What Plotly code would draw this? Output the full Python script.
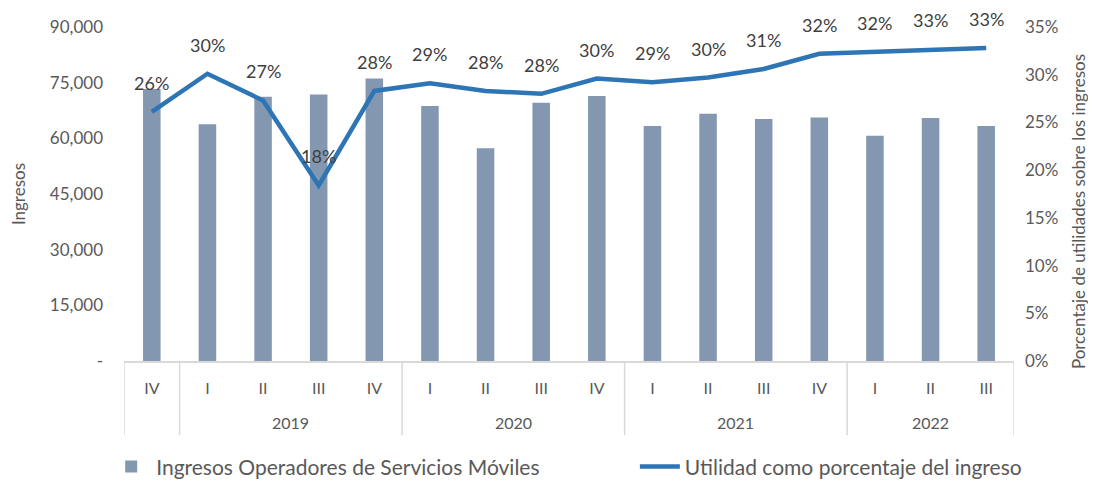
import plotly.graph_objects as go

years = ["", "2019", "2019", "2019", "2019", "2020", "2020", "2020", "2020",
         "2021", "2021", "2021", "2021", "2022", "2022", "2022"]
quarters = ["IV", "I", "II", "III", "IV", "I", "II", "III", "IV",
            "I", "II", "III", "IV", "I", "II", "III"]
ingresos = [73300, 63800, 71200, 71800, 76100, 68700, 57300, 69600, 71400,
            63300, 66600, 65200, 65600, 60700, 65500, 63300]
utilidad_pct = [26.1, 30.1, 27.3, 18.4, 28.3, 29.1, 28.3, 28.0, 29.6,
                29.2, 29.7, 30.6, 32.2, 32.4, 32.7, 32.8]

left_ticks = [0, 15000, 30000, 45000, 60000, 75000, 90000]
left_ticktext = ["-", "15,000", "30,000", "45,000", "60,000", "75,000", "90,000"]
right_ticks = [0, 5, 10, 15, 20, 25, 30, 35]
right_ticktext = [f"{v}%" for v in right_ticks]

FONT = "Lato"
GREY = "#595959"
DIV = "#D9D9D9"

idx = list(range(len(quarters)))

fig = go.Figure()
fig.add_trace(go.Bar(
    x=idx, y=ingresos,
    name="Ingresos Operadores de Servicios Móviles",
    marker=dict(color="#8497B0", line=dict(width=0)),
    legend="legend",
))
fig.add_trace(go.Scatter(
    x=idx, y=utilidad_pct, yaxis="y2",
    mode="lines", name="Utilidad como porcentaje del ingreso",
    line=dict(color="#2E75B6", width=4.5),
    legend="legend2",
))

annotations = []
for i, v in enumerate(utilidad_pct):
    annotations.append(dict(
        x=i, y=v, xref="x", yref="y2", text=f"{round(v)}%",
        showarrow=False, yshift=29, font=dict(family=FONT, size=18, color="#404040"),
    ))

# year group labels and dividers
groups = []
for i, yr in enumerate(years):
    if not groups or groups[-1][0] != yr:
        groups.append([yr, i, i])
    else:
        groups[-1][2] = i

shapes = []
for yr, a, b in groups:
    if yr:
        annotations.append(dict(
            x=(a + b) / 2, y=-0.183, xref="x", yref="paper", text=yr,
            showarrow=False, xanchor="center", yanchor="middle",
            font=dict(family=FONT, size=16, color=GREY),
        ))
    shapes.append(dict(type="line", xref="x", yref="paper", x0=a - 0.5, x1=a - 0.5,
                       y0=0, y1=-0.222, line=dict(color=DIV, width=1.5)))
shapes.append(dict(type="line", xref="x", yref="paper",
                   x0=len(quarters) - 0.5, x1=len(quarters) - 0.5,
                   y0=0, y1=-0.222, line=dict(color=DIV, width=1.5)))

annotations.append(dict(
    x=-0.119, y=0.5, xref="paper", yref="paper", text="Ingresos",
    textangle=-90, showarrow=False, xanchor="center", yanchor="middle",
    font=dict(family=FONT, size=17, color=GREY),
))
annotations.append(dict(
    x=1.072, y=0.446, xref="paper", yref="paper",
    text="Porcentaje de utilidades sobre los ingresos",
    textangle=-90, showarrow=False, xanchor="center", yanchor="middle",
    font=dict(family=FONT, size=17, color=GREY),
))

legend_common = dict(
    orientation="h", xanchor="left", y=-0.317, yanchor="middle",
    font=dict(family=FONT, size=21, color=GREY), itemwidth=40,
    bgcolor="rgba(0,0,0,0)",
)

# the page body has an 8px default margin, so the figure is sized to fit the window
fig.update_layout(
    width=1088, height=475,
    margin=dict(l=116, r=82, t=19, b=122, autoexpand=False),
    plot_bgcolor="white", paper_bgcolor="white",
    bargap=0.685,
    font=dict(family=FONT, size=16, color=GREY),
    xaxis=dict(
        range=[-0.5, len(quarters) - 0.5], tickvals=idx, ticktext=quarters,
        showline=True, linecolor=DIV, linewidth=1.5, automargin=False,
        ticks="", showgrid=False, zeroline=False, ticklabelstandoff=12,
        tickfont=dict(family=FONT, size=16, color=GREY),
    ),
    yaxis=dict(
        range=[0, 90000], tickvals=left_ticks, ticktext=left_ticktext,
        showgrid=False, zeroline=False, showline=False, ticks="", automargin=False,
        ticklabelstandoff=20, tickfont=dict(family=FONT, size=17, color=GREY),
    ),
    yaxis2=dict(
        overlaying="y", side="right", range=[0, 35], tickvals=right_ticks,
        ticktext=right_ticktext, showgrid=False, zeroline=False, showline=False,
        ticks="", ticklabelstandoff=10, automargin=False,
        tickfont=dict(family=FONT, size=17, color=GREY),
    ),
    legend=dict(x=-0.020, **legend_common),
    legend2=dict(x=0.574, **legend_common),
    annotations=annotations,
    shapes=shapes,
    showlegend=True,
)

fig.write_html("out.html")
